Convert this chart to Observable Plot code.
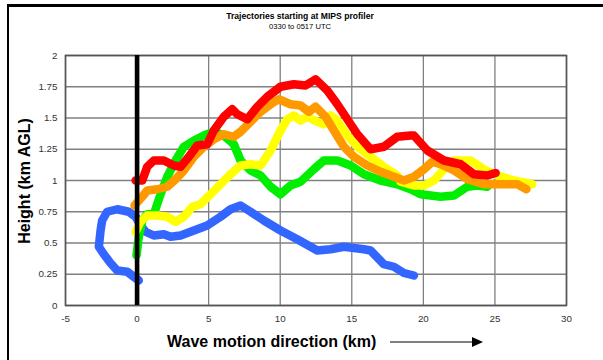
<!DOCTYPE html>
<html>
<head>
<meta charset="utf-8">
<script src="https://cdn.jsdelivr.net/npm/d3@7"></script>
<script src="https://cdn.jsdelivr.net/npm/@observablehq/plot@0.6"></script>
<style>
  html, body { margin: 0; padding: 0; background: #fff; }
  #wrap { position: relative; width: 603px; height: 360px; overflow: hidden; font-family: "Liberation Sans", Arial, sans-serif; background: #fff; }
  #chart { position: absolute; left: 0; top: 0; }
  .border { position: absolute; left: 7px; top: 4px; width: 600px; height: 360px; border-top: 3px solid #000; border-left: 2.5px solid #000; pointer-events: none; }
  .title { position: absolute; left: 0; width: 600px; text-align: center; color: #000; }
  #t1 { top: 11px; font-size: 8.6px; font-weight: bold; }
  #t2 { top: 22px; font-size: 7.6px; }
  #ylab { position: absolute; left: 25px; top: 181px; transform: translate(-50%, -50%) rotate(-90deg); font-size: 16px; font-weight: bold; white-space: nowrap; color: #000; }
  #xlab { position: absolute; left: 167px; top: 333px; font-size: 16px; font-weight: bold; white-space: nowrap; color: #000; display: flex; align-items: center; }
  #xlab svg { margin-left: 14px; }
</style>
</head>
<body>
<div id="wrap">
  <div id="chart"></div>
  <div class="title" id="t1">Trajectories starting at MIPS profiler</div>
  <div class="title" id="t2">0330 to 0517 UTC</div>
  <div id="ylab">Height (km AGL)</div>
  <div id="xlab"><span>Wave motion direction (km)</span><svg width="94" height="12"><line x1="0" y1="6" x2="84" y2="6" stroke="#000" stroke-width="1.2"/><path d="M82,1 L93,6 L82,11 Z" fill="#000"/></svg></div>
  <div class="border"></div>
</div>
<script>
// Tick values
const xTicks = [-5, 0, 5, 10, 15, 20, 25, 30];
const xTickLabels = ["-5", "0", "5", "10", "15", "20", "25", "30"];
const yTicks = [0, 0.25, 0.5, 0.75, 1, 1.25, 1.5, 1.75, 2];
const yTickLabels = ["0", "0.25", "0.5", "0.75", "1", "1.25", "1.5", "1.75", "2"];

// Series (x = distance along wave motion km, y = height km AGL)
const blueX = [0.12, -0.69, -1.39, -1.86, -2.32, -2.67, -2.55, -2.44, -2.09, -1.39, -0.58, -0.1, 0.24, 0.59, 1.17, 1.87, 2.34, 3.04, 3.97, 4.9, 5.83, 6.53, 7.23, 7.93, 8.86, 10.02, 11.19, 12.59, 13.52, 14.45, 15.85, 16.31, 17.24, 17.94, 18.64, 19.34];
const blueY = [0.2, 0.27, 0.28, 0.34, 0.41, 0.47, 0.6, 0.68, 0.75, 0.77, 0.75, 0.71, 0.64, 0.59, 0.56, 0.57, 0.55, 0.56, 0.6, 0.64, 0.71, 0.77, 0.8, 0.75, 0.68, 0.6, 0.53, 0.44, 0.45, 0.47, 0.45, 0.44, 0.33, 0.31, 0.26, 0.24];

const greenX = [-0.04, 0.12, 0.36, 0.71, 1.17, 1.64, 2.11, 2.69, 3.27, 3.97, 4.67, 5.36, 6.06, 6.76, 7.23, 7.93, 8.63, 9.33, 10.02, 10.72, 11.42, 12.35, 13.05, 13.99, 14.92, 15.85, 17.01, 18.18, 19.11, 19.81, 21.21, 22.14, 23.07, 23.77, 24.47];
const greenY = [0.4, 0.55, 0.68, 0.73, 0.73, 0.89, 1.03, 1.16, 1.27, 1.32, 1.36, 1.39, 1.36, 1.29, 1.16, 1.08, 1.04, 0.95, 0.89, 0.96, 0.99, 1.09, 1.16, 1.16, 1.12, 1.05, 1.0, 0.97, 0.93, 0.89, 0.87, 0.88, 0.95, 0.96, 0.95];

const yellowX = [-0.1, 0.24, 0.71, 1.41, 2.11, 2.69, 3.27, 3.86, 4.43, 5.13, 5.83, 6.53, 7.23, 7.93, 8.63, 9.33, 10.02, 10.49, 10.95, 11.42, 11.89, 12.59, 13.05, 13.52, 13.99, 14.69, 15.39, 16.31, 17.24, 18.18, 18.41, 19.34, 20.04, 20.74, 21.44, 22.14, 23.3, 24.23, 25.17, 26.33, 27.61];
const yellowY = [0.59, 0.67, 0.72, 0.72, 0.71, 0.67, 0.71, 0.79, 0.81, 0.89, 0.97, 1.05, 1.12, 1.13, 1.12, 1.24, 1.4, 1.49, 1.52, 1.48, 1.51, 1.47, 1.45, 1.52, 1.48, 1.36, 1.27, 1.19, 1.11, 1.04, 0.99, 0.96, 0.96, 1.0, 1.09, 1.16, 1.16, 1.09, 1.04, 1.0, 0.97];

const orangeX = [-0.18, 0.36, 0.71, 1.41, 2.11, 2.69, 3.27, 3.97, 4.67, 5.36, 6.06, 6.76, 7.23, 7.93, 8.63, 9.33, 9.9, 10.72, 11.42, 12.0, 12.47, 13.17, 13.75, 14.45, 15.15, 16.08, 17.01, 17.94, 18.64, 19.34, 20.04, 20.62, 21.21, 22.14, 23.07, 24.23, 25.4, 26.57, 27.2];
const orangeY = [0.8, 0.87, 0.92, 0.93, 0.95, 1.01, 1.08, 1.19, 1.27, 1.33, 1.37, 1.35, 1.39, 1.47, 1.55, 1.61, 1.65, 1.61, 1.6, 1.55, 1.59, 1.51, 1.4, 1.27, 1.19, 1.12, 1.07, 1.03, 1.0, 1.03, 1.09, 1.15, 1.13, 1.08, 1.01, 0.97, 0.97, 0.97, 0.93];

const redX = [-0.1, 0.36, 0.71, 1.17, 1.87, 2.57, 3.04, 3.62, 4.2, 4.9, 5.36, 6.06, 6.65, 7.0, 7.7, 8.4, 9.1, 10.02, 10.95, 11.77, 12.47, 13.29, 13.99, 14.69, 15.39, 16.31, 17.24, 18.18, 19.11, 19.34, 20.28, 21.44, 22.6, 23.53, 24.47, 25.05];
const redY = [1.0, 1.0, 1.11, 1.16, 1.16, 1.12, 1.11, 1.19, 1.28, 1.29, 1.4, 1.51, 1.57, 1.53, 1.49, 1.59, 1.67, 1.75, 1.77, 1.76, 1.81, 1.72, 1.61, 1.49, 1.37, 1.25, 1.27, 1.35, 1.36, 1.36, 1.24, 1.16, 1.13, 1.05, 1.04, 1.06];

const seriesNames = ["blue", "green", "yellow", "orange", "red"];
const seriesColors = ["#3366ff", "#00ee00", "#ffff00", "#ff9900", "#ff0000"];
const seriesX = [blueX, greenX, yellowX, orangeX, redX];
const seriesY = [blueY, greenY, yellowY, orangeY, redY];

const lineMarks = seriesNames.map((name, i) => {
  const data = seriesX[i].map((x, j) => ({x, y: seriesY[i][j]}));
  return Plot.line(data, {x: "x", y: "y", stroke: seriesColors[i], strokeWidth: 8.5, strokeLinecap: "round", strokeLinejoin: "round", curve: "linear"});
});

const chart = Plot.plot({
  width: 603,
  height: 360,
  marginLeft: 65,
  marginRight: 37,
  marginTop: 55,
  marginBottom: 55,
  style: {fontFamily: "Liberation Sans, Arial, sans-serif", fontSize: "9.8px", color: "#333", background: "transparent"},
  x: {domain: [-5, 30], ticks: xTicks, tickSize: 0, tickPadding: 10, label: null, tickFormat: (d) => xTickLabels[xTicks.indexOf(d)]},
  y: {domain: [0, 2], ticks: yTicks, tickSize: 0, tickPadding: 8, label: null, tickFormat: (d) => yTickLabels[yTicks.indexOf(d)]},
  marks: [
    Plot.gridX(xTicks, {stroke: "#808080", strokeOpacity: 1, strokeWidth: 1.3}),
    Plot.gridY(yTicks, {stroke: "#808080", strokeOpacity: 1, strokeWidth: 1.3}),
    Plot.frame({stroke: "#555", strokeWidth: 1.6}),
    ...lineMarks,
    Plot.ruleX([0], {y1: 0, y2: 2, stroke: "#000", strokeWidth: 4.6})
  ]
});
document.getElementById("chart").appendChild(chart);
</script>
</body>
</html>
